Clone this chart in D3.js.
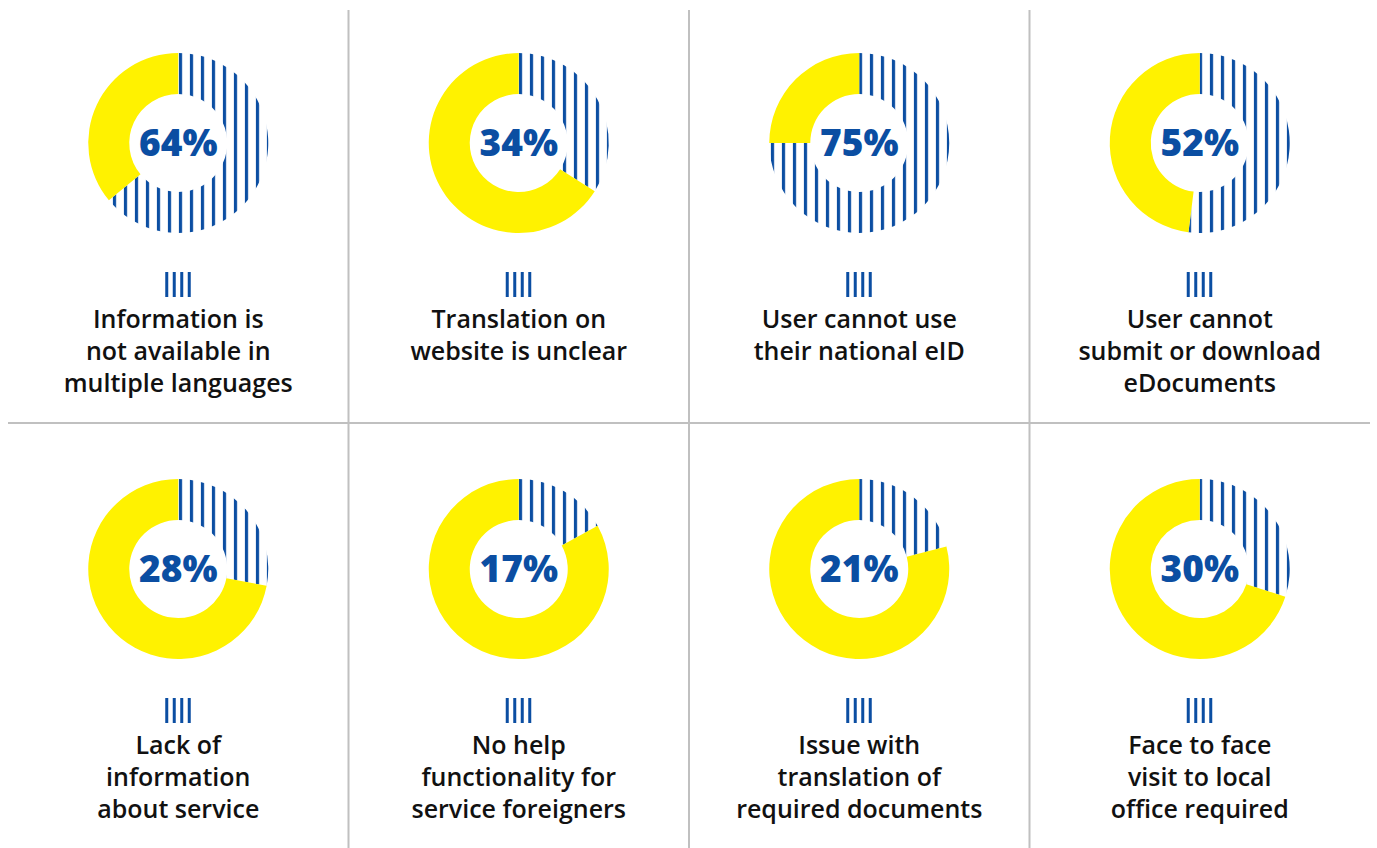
<!DOCTYPE html>
<meta charset="utf-8">
<title>Barriers for cross-border users</title>
<script src="https://d3js.org/d3.v7.min.js"></script>
<style>
body { margin:0; background:#fff; }
svg { display:block; }
.lbl { font-family:"Open Sans", sans-serif; font-weight:600; font-size:25px; fill:#111; }
.pct { font-family:"Open Sans", sans-serif; font-weight:800; font-size:37px; fill:#0b4ea2; }
.grid { stroke:#c0c0c0; stroke-width:2; }
</style>
<svg width="1377" height="848"></svg>
<script>

var labels = [
  ["Information is", "not available in", "multiple languages"],
  ["Translation on", "website is unclear"],
  ["User cannot use", "their national eID"],
  ["User cannot", "submit or download", "eDocuments"],
  ["Lack of", "information", "about service"],
  ["No help", "functionality for", "service foreigners"],
  ["Issue with", "translation of", "required documents"],
  ["Face to face", "visit to local", "office required"]
];
var values = [64, 34, 75, 52, 28, 17, 21, 30];

var blue = "#0b4ea2", yellow = "#fff200";

var svg = d3.select("svg"),
    cols = 4,
    x = d3.scaleLinear().domain([0, cols]).range([8, 1370]),
    rowY = [143, 569],
    outer = 90, inner = 49;

var defs = svg.append("defs");

// grid lines
svg.append("line").attr("class", "grid")
    .attr("x1", 8).attr("x2", 1370).attr("y1", 423).attr("y2", 423);
[1, 2, 3].forEach(function(c) {
  svg.append("line").attr("class", "grid")
      .attr("x1", x(c)).attr("x2", x(c)).attr("y1", 10).attr("y2", 848);
});

var pie = d3.pie().sort(null).value(function(d) { return d; });
var arc = d3.arc().innerRadius(inner).outerRadius(outer);

values.forEach(function(v, i) {
  var c = i % cols, r = Math.floor(i / cols);
  var cx = (x(c) + x(c + 1)) / 2, cy = rowY[r];

  var pat = defs.append("pattern")
      .attr("id", "hatch" + i)
      .attr("patternUnits", "userSpaceOnUse")
      .attr("x", cx - 1.6).attr("y", 0)
      .attr("width", 11).attr("height", 11);
  pat.append("rect").attr("width", 3.2).attr("height", 11).attr("fill", blue);

  var g = svg.append("g").attr("transform", "translate(" + cx + "," + cy + ")");
  g.selectAll("path")
    .data(pie([v, 100 - v]))
    .enter().append("path")
      .attr("d", arc)
      .attr("fill", function(d, j) { return j === 0 ? "url(#hatch" + i + ")" : yellow; });

  g.append("text").attr("class", "pct")
      .attr("text-anchor", "middle")
      .attr("dy", "0.35em")
      .text(v + "%");

  // legend icon
  var ic = svg.append("g").attr("transform", "translate(" + (cx - 13) + "," + (cy + 129) + ")");
  d3.range(4).forEach(function(k) {
    ic.append("rect").attr("x", k * 7.5).attr("y", 0)
        .attr("width", 3).attr("height", 25).attr("fill", blue);
  });

  var t = svg.append("text").attr("class", "lbl")
      .attr("text-anchor", "middle")
      .attr("transform", "translate(" + cx + "," + (cy + 185) + ")");
  labels[i].forEach(function(line, k) {
    t.append("tspan").attr("x", 0).attr("y", k * 32).text(line);
  });
});
</script>
